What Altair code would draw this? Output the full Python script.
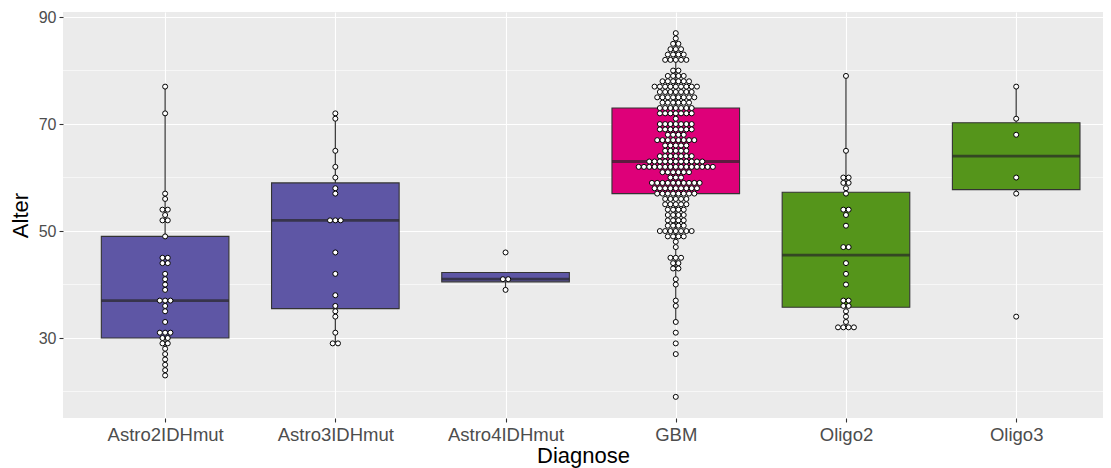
import json
import altair as alt
import pandas as pd

categories = ["Astro2IDHmut", "Astro3IDHmut", "Astro4IDHmut", "GBM", "Oligo2", "Oligo3"]
fill_colors = ["#5E56A5", "#5E56A5", "#5E56A5", "#DE0079", "#55951B", "#55951B"]

astro2_ages = [77, 72, 57, 56, 54, 54, 53, 52, 52, 49, 45, 45, 44, 44, 42, 41, 40, 39,
               37, 37, 37, 36, 35, 33, 31, 31, 31, 30, 30, 29, 29, 28, 27, 26, 25, 24, 23]
astro3_ages = [72, 71, 65, 62, 60, 58, 57, 52, 52, 52, 46, 42, 38, 36, 35, 34, 31, 29, 29]
astro4_ages = [46, 41, 41, 39]
gbm_age_values = [87, 86, 85, 84, 83, 82, 80, 79, 78, 77, 76, 75, 74, 73, 72, 71, 70, 69,
                  68, 67, 66, 65, 64, 63, 62, 61, 60, 59, 58, 57, 56, 55, 54, 53, 52, 51,
                  50, 49, 48, 47, 45, 44, 43, 41, 40, 37, 36, 33, 31, 29, 27, 19]
gbm_age_counts = [1, 1, 2, 3, 4, 5, 2, 4, 6, 9, 7, 8, 6, 7, 7, 1, 7, 7,
                  4, 8, 5, 5, 7, 11, 15, 6, 3, 10, 9, 8, 5, 5, 4, 4, 4, 4,
                  7, 4, 1, 1, 3, 2, 2, 1, 1, 1, 1, 1, 1, 1, 1, 1]
oligo2_ages = [79, 65, 60, 60, 59, 59, 58, 57, 54, 54, 53, 51, 47, 47, 44, 42, 40, 37,
               37, 36, 36, 35, 34, 33, 32, 32, 32, 32]
oligo3_ages = [77, 71, 68, 60, 57, 34]

y_ticks = [30, 50, 70, 90]
y_minor = [20, 40, 60, 80]

gbm_ages = []
for v, c in zip(gbm_age_values, gbm_age_counts):
    gbm_ages.extend([v] * c)

groups = {
    "Astro2IDHmut": astro2_ages,
    "Astro3IDHmut": astro3_ages,
    "Astro4IDHmut": astro4_ages,
    "GBM": gbm_ages,
    "Oligo2": oligo2_ages,
    "Oligo3": oligo3_ages,
}
rows = []
for name, ages in groups.items():
    gi = categories.index(name) + 1
    for a in ages:
        rows.append({"Diagnose": name, "gi": gi, "Alter": a})
df = pd.DataFrame(rows)

PX_PER_CAT = 170.2
DOT_STEP = 5.3 / PX_PER_CAT

x_scale = alt.Scale(domain=[0.4, 6.51], nice=False, zero=False, padding=0)
y_scale = alt.Scale(domain=[15.05, 90.95], nice=False, zero=False, padding=0)
color_scale = alt.Scale(domain=categories, range=fill_colors)

label_expr = json.dumps(categories) + "[datum.value - 1]"

x_axis = alt.Axis(values=list(range(1, len(categories) + 1)), labelExpr=label_expr,
                  title="Diagnose", grid=True, labelFontSize=18.5, titleFontSize=22)
y_axis = alt.Axis(values=y_ticks, title="Alter", grid=True, labelFontSize=16,
                  titleFontSize=22)

minor = alt.Chart(pd.DataFrame({"v": y_minor})).mark_rule(
    color="white", strokeWidth=0.6
).encode(y=alt.Y("v:Q", scale=y_scale, axis=y_axis))

box = alt.Chart(df).mark_boxplot(
    extent=1.5,
    size=127.6,
    outliers=False,
    ticks=False,
    orient="vertical",
    box={"stroke": "#333333", "strokeWidth": 1.1},
    median={"color": "#262626", "thickness": 2.8},
    rule={"color": "#333333", "strokeWidth": 1.2},
).encode(
    x=alt.X("gi:Q", scale=x_scale, axis=x_axis),
    y=alt.Y("Alter:Q", scale=y_scale, axis=y_axis),
    color=alt.Color("Diagnose:N", scale=color_scale, legend=None),
)

dots = alt.Chart(df).transform_window(
    rank="row_number()", groupby=["Diagnose", "Alter"]
).transform_joinaggregate(
    n="count()", groupby=["Diagnose", "Alter"]
).transform_calculate(
    xpos=f"datum.gi + (datum.rank - (datum.n + 1) / 2) * {DOT_STEP}"
).mark_point(
    shape="circle", filled=True, fill="white", stroke="black",
    strokeWidth=1.0, size=25, opacity=1
).encode(
    x=alt.X("xpos:Q", scale=x_scale, axis=x_axis),
    y=alt.Y("Alter:Q", scale=y_scale, axis=y_axis),
)

chart = alt.layer(minor, box, dots).properties(
    width=1040, height=406,
    autosize=alt.AutoSizeParams(type="none"),
    padding={"left": 63, "top": 12, "right": 8, "bottom": 50},
    background="white",
).configure_view(
    fill="#EBEBEB", stroke="#EBEBEB", strokeWidth=0
).configure_axis(
    labelFont="Liberation Sans", titleFont="Liberation Sans",
    labelColor="#4D4D4D",
    titleColor="black", titleFontWeight="normal",
    tickColor="#333333", tickSize=4, tickWidth=1.1,
    domain=False, gridColor="white", gridWidth=1.1,
    labelPadding=3,
).configure_axisY(
    titlePadding=6,
).configure_axisX(
    titlePadding=2,
)

chart.save("out.html", embed_options={"renderer": "svg", "actions": False})
